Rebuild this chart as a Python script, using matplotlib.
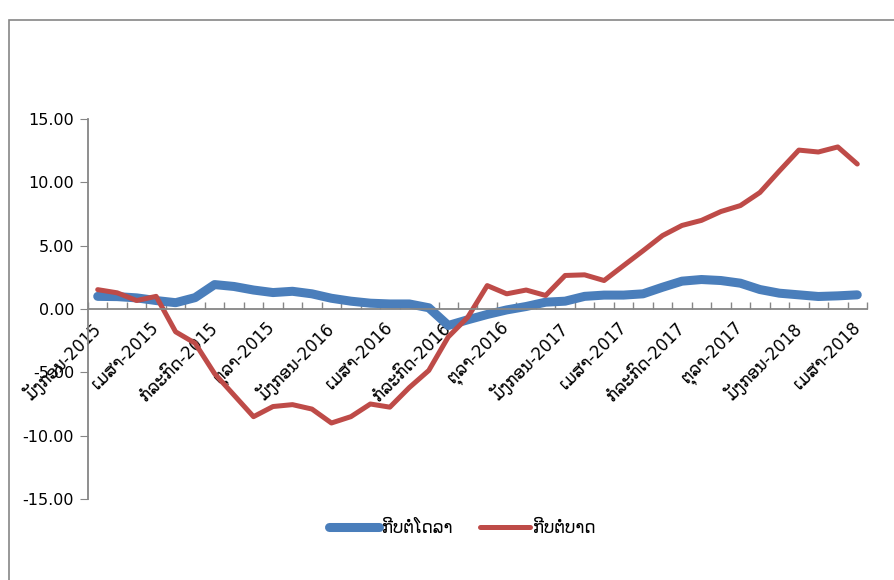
"""Kip per USD / kip per THB change, Jan 2015 - Apr 2018."""
import matplotlib
matplotlib.use("Agg")
import matplotlib.pyplot as plt
from matplotlib.patches import Rectangle
from matplotlib.ticker import FixedLocator, FormatStrFormatter

plt.rcParams["font.family"] = ["DejaVu Sans"]

# month names (Lao) used for every third label
MONTHS = ["ມັງກອນ", "ເມສາ", "ກໍລະກົດ", "ຕຸລາ"]
YEARS = [2015, 2016, 2017, 2018]

kip_usd = [1.0, 0.98, 0.88, 0.67, 0.5, 0.9, 1.93, 1.78, 1.5, 1.3,
           1.4, 1.2, 0.85, 0.62, 0.46, 0.4, 0.4, 0.1, -1.3, -0.85,
           -0.43, -0.07, 0.2, 0.54, 0.62, 1.0, 1.1, 1.1, 1.2, 1.72,
           2.2, 2.33, 2.25, 2.04, 1.54, 1.25, 1.12, 0.99, 1.04, 1.12]
kip_thb = [1.53, 1.28, 0.67, 1.0, -1.8, -2.7, -5.1, -6.8, -8.5, -7.7,
           -7.55, -7.9, -9.0, -8.5, -7.5, -7.75, -6.2, -4.85, -2.2, -0.65,
           1.85, 1.2, 1.5, 1.07, 2.65, 2.7, 2.25, 3.43, 4.6, 5.8,
           6.6, 7.0, 7.7, 8.17, 9.2, 10.9, 12.55, 12.4, 12.8, 11.45]
series_names = ["ກີບຕໍ່ໂດລາ", "ກີບຕໍ່ບາດ"]

labels = []
for y in YEARS:
    for m in MONTHS:
        labels.append(f"{m}-{y}")
n = len(kip_usd)
label_pos = list(range(0, n, 3))
labels = labels[:len(label_pos)]

fig = plt.figure(figsize=(8.94, 5.80), dpi=100)
ax = fig.add_axes([0.0984, 0.1397, 0.8714, 0.655])

x = list(range(n))
ax.plot(x, kip_usd, color="#4A7EBB", lw=6.5, solid_capstyle="round",
        solid_joinstyle="round", label=series_names[0])
ax.plot(x, kip_thb, color="#BE4B48", lw=3.6, solid_capstyle="round",
        solid_joinstyle="round", label=series_names[1])

grey = "#868686"
ax.set_xlim(-0.5, n - 0.5)
ax.set_ylim(-15, 15)
ax.set_yticks([-15, -10, -5, 0, 5, 10, 15])
ax.yaxis.set_major_formatter(FormatStrFormatter("%.2f"))
ax.tick_params(axis="y", direction="out", length=6, color=grey,
               labelsize=11.5, pad=4)

ax.spines["bottom"].set_position(("data", 0))
for s in ["top", "right"]:
    ax.spines[s].set_visible(False)
for s in ["left", "bottom"]:
    ax.spines[s].set_color(grey)
    ax.spines[s].set_linewidth(1.3)

ax.set_xticks(label_pos)
ax.set_xticklabels(labels, rotation=45, ha="right", rotation_mode="anchor",
                   va="center")
ax.xaxis.set_minor_locator(FixedLocator([i - 0.5 for i in range(n + 1)]))
ax.tick_params(axis="x", which="major", length=0, labelsize=12, pad=12)
ax.tick_params(axis="x", which="minor", direction="in", length=5,
               color=grey, width=1)

fig.legend(loc="center", bbox_to_anchor=(0.517, 0.09), ncol=2, frameon=False,
           fontsize=12, handlelength=3.0, handletextpad=0.2,
           columnspacing=1.6)

# chart frame (left + top only, like the cropped original)
fig.add_artist(Rectangle((9 / 894, -0.2), 1.2, 1.2 - 20 / 580,
                         transform=fig.transFigure, fill=False,
                         edgecolor=grey, lw=1.2))

fig.savefig("out.png", dpi=100)
